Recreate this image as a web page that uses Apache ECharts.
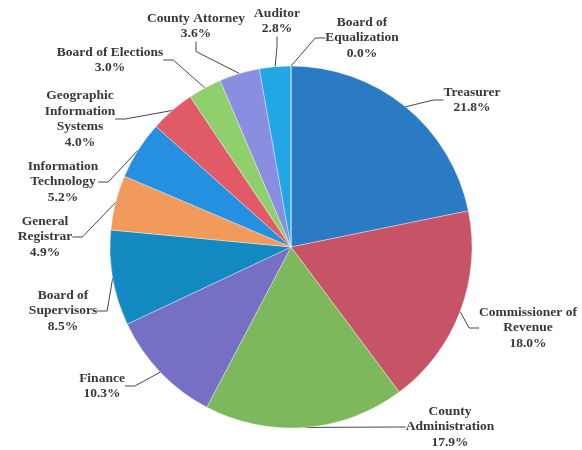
<!DOCTYPE html>
<html>
<head>
<meta charset="utf-8">
<script src="https://cdn.jsdelivr.net/npm/echarts@6/dist/echarts.min.js"></script>
<style>
  html, body { margin: 0; padding: 0; background: #fff; }
  #chart { width: 582px; height: 450px; }
</style>
</head>
<body>
<div id="chart"></div>
<script>
// Department shares of the budget, clockwise from the top
const departments = [
  'Treasurer',
  'Commissioner of\nRevenue',
  'County\nAdministration',
  'Finance',
  'Board of\nSupervisors',
  'General\nRegistrar',
  'Information\nTechnology',
  'Geographic\nInformation\nSystems',
  'Board of Elections',
  'County Attorney',
  'Auditor',
  'Board of\nEqualization'
];
const shares = [21.8, 18.0, 17.9, 10.3, 8.5, 4.9, 5.2, 4.0, 3.0, 3.6, 2.8, 0.0];

const sliceColors = [
  '#2b7bc4', '#c75466', '#7db85c', '#7570c4', '#1289c0', '#f29a5c',
  '#2690e0', '#e05a68', '#8fcf6c', '#8a8ee0', '#22a6e6', '#1f63b0'
];

// Where each label block sits (centre of the text block)
const labelSpots = [
  [472, 100], [528, 328], [450, 427], [102, 386], [63, 311], [45, 237],
  [63, 182], [80, 119], [110, 60], [196, 26], [277, 21], [362, 38]
];

const chart = echarts.init(document.getElementById('chart'), null, { renderer: 'canvas' });

chart.setOption({
  animation: false,
  backgroundColor: '#ffffff',
  series: [{
    type: 'pie',
    center: [291, 247],
    radius: 181,
    startAngle: 90,
    clockwise: true,
    avoidLabelOverlap: false,
    data: departments.map((name, i) => ({
      name: name,
      value: shares[i],
      itemStyle: { color: sliceColors[i] }
    })),
    itemStyle: {
      borderColor: 'rgba(255,255,255,0.6)',
      borderWidth: 0.6
    },
    label: {
      show: true,
      position: 'outside',
      formatter: p => p.name + '\n' + p.value.toFixed(1) + '%',
      fontFamily: '"Liberation Serif", "Times New Roman", serif',
      fontWeight: 'bold',
      fontSize: 13.5,
      lineHeight: 15.5,
      color: '#383838',
      align: 'center'
    },
    labelLine: {
      show: true,
      length: 10,
      length2: 10,
      lineStyle: { color: '#474747', width: 1 }
    },
    labelLayout: function (params) {
      const spot = labelSpots[params.dataIndex];
      return { x: spot[0], y: spot[1], align: 'center', verticalAlign: 'middle' };
    }
  }]
});
</script>
</body>
</html>
